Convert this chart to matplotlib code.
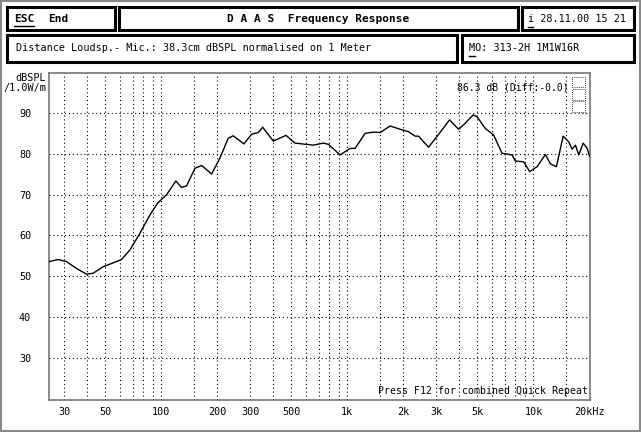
import matplotlib
matplotlib.use("Agg")
import matplotlib.pyplot as plt
from matplotlib.patches import Rectangle
from matplotlib.lines import Line2D

freq = [25.1, 27.8, 30.9, 35.0, 39.6, 42.9, 48.6, 57.4, 61.1, 67.7,
        76.6, 86.7, 96.1, 106.7, 119.7, 128.4, 136.7, 151.5, 164.6, 186.3,
        206.4, 228.8, 243.4, 278.0, 305.8, 331.9, 350.5, 399.6, 467.8, 523.1,
        656.2, 742.7, 790.0, 913.5, 1034, 1100, 1245, 1380, 1500, 1697,
        1921, 2130, 2314, 2411, 2729, 3028, 3540, 3957, 4300, 4730,
        4970, 5510, 6107, 6776, 7670, 7990, 8857, 9540, 10460, 11590,
        12330, 13280, 14430, 15470, 16130, 16810, 17510, 18490, 19430, 20000]
spl = [53.6, 54.1, 53.6, 51.9, 50.5, 50.7, 52.3, 53.6, 54.1, 56.4,
       60.5, 65.0, 68.1, 70.0, 73.4, 71.8, 72.2, 76.5, 77.2, 75.1,
       79.0, 83.9, 84.5, 82.5, 84.9, 85.3, 86.6, 83.2, 84.6, 82.7,
       82.2, 82.7, 82.4, 79.8, 81.4, 81.4, 85.1, 85.4, 85.3, 86.9,
       86.1, 85.5, 84.4, 84.4, 81.7, 84.3, 88.4, 86.1, 87.6, 89.6,
       89.2, 86.3, 84.7, 80.2, 79.8, 78.3, 78.1, 75.7, 76.9, 79.9,
       77.6, 76.9, 84.4, 83.0, 81.2, 82.2, 79.8, 82.7, 81.4, 79.5]

x_grid = [30, 40, 50, 60, 70, 80, 90, 100, 150, 200, 300, 400, 500, 600, 700,
          800, 900, 1000, 1500, 2000, 3000, 4000, 5000, 6000, 7000, 8000,
          9000, 10000, 15000]
x_ticks = [30, 50, 100, 200, 300, 500, 1000, 2000, 3000, 5000, 10000, 20000]
x_labels = ["30", "50", "100", "200", "300", "500", "1k", "2k", "3k", "5k",
            "10k", "20kHz"]
y_ticks = [30, 40, 50, 60, 70, 80, 90]

W, H = 641, 432
mono = "DejaVu Sans Mono"

fig = plt.figure(figsize=(W / 100, H / 100), dpi=100)
fig.patch.set_facecolor("white")


def px(x, y):
    return x / W, 1 - y / H


def box(x0, y0, x1, y1, lw=2.2):
    fig.add_artist(Rectangle(px(x0, y1), (x1 - x0) / W, (y1 - y0) / H,
                             transform=fig.transFigure, fill=False,
                             edgecolor="black", linewidth=lw))


# outer dotted frame
fig.add_artist(Rectangle((0.002, 0.003), 0.996, 0.994, transform=fig.transFigure,
                         fill=False, edgecolor="#888888", linewidth=1.5))

# header boxes
box(7, 7, 115, 30)
box(119, 7, 518, 30)
box(522, 7, 634, 30)
box(7, 35, 457, 62)
box(462, 35, 634, 62)

fig.text(*px(14, 19), "ESC", fontsize=8, fontweight="bold", family=mono, va="center")
fig.add_artist(Line2D([14 / W, 34 / W], [1 - 26 / H, 1 - 26 / H], color="black",
                      lw=1, transform=fig.transFigure))
fig.text(*px(48, 19), "End", fontsize=8, fontweight="bold", family=mono, va="center")
fig.text(*px(318, 19), "D A A S  Frequency Response", fontsize=8, fontweight="bold",
         family=mono, ha="center", va="center")
fig.text(*px(528, 19), "i 28.11.00 15 21", fontsize=7.3, family=mono, va="center")
fig.add_artist(Line2D([528 / W, 533 / W], [1 - 27 / H, 1 - 27 / H], color="black",
                      lw=1, transform=fig.transFigure))
fig.text(*px(16, 48), "Distance Loudsp.- Mic.: 38.3cm dBSPL normalised on 1 Meter",
         fontsize=7.3, family=mono, va="center")
fig.text(*px(469, 48), "MO: 313-2H 1M1W16R", fontsize=7.3, family=mono, va="center")
fig.add_artist(Line2D([469 / W, 475 / W], [1 - 56 / H, 1 - 56 / H], color="black",
                      lw=1, transform=fig.transFigure))

# plot area
ax = fig.add_axes([49.3 / W, 1 - 400.3 / H, (589.5 - 49.3) / W, (400.3 - 72.7) / H])
ax.set_xscale("log")
ax.set_xlim(25, 20000)
ax.set_ylim(19.5, 100)

for f in x_grid:
    ax.axvline(f, color="black", lw=0.8, linestyle=(0, (1, 2.5)), zorder=1)
for v in y_ticks:
    ax.axhline(v, color="black", lw=0.8, linestyle=(0, (1, 2.5)), zorder=1)

ax.plot(freq, spl, color="black", lw=1.0, zorder=3)

ax.set_xticks(x_ticks)
ax.set_xticklabels(x_labels, family=mono, fontsize=7.3)
ax.set_xticks([], minor=True)
ax.set_yticks(y_ticks)
ax.set_yticklabels([str(v) for v in y_ticks], family=mono, fontsize=7.3)
ax.tick_params(length=0, pad=5)
ax.tick_params(axis="y", pad=13)
for s in ax.spines.values():
    s.set_color("#777777")
    s.set_linewidth(1.2)

ax.text(0.962, 0.955, "86.3 dB (Diff:-0.0)", transform=ax.transAxes, ha="right",
        va="center", fontsize=7, family=mono)
ax.text(0.998, 0.012, "Press F12 for combined Quick Repeat", transform=ax.transAxes,
        ha="right", va="bottom", fontsize=7.1, family=mono)

# little dotted marker boxes in the top right corner
for i in range(3):
    ax.add_patch(Rectangle((0.968, 0.955 - i * 0.037), 0.024, 0.033, transform=ax.transAxes,
                           fill=False, edgecolor="black", lw=0.6, linestyle=(0, (1, 1.5))))

fig.text(*px(46, 83), "dBSPL\n/1.0W/m", fontsize=7.3, family=mono, ha="right",
         va="center", linespacing=1.1)

fig.savefig("out.png", dpi=100)
